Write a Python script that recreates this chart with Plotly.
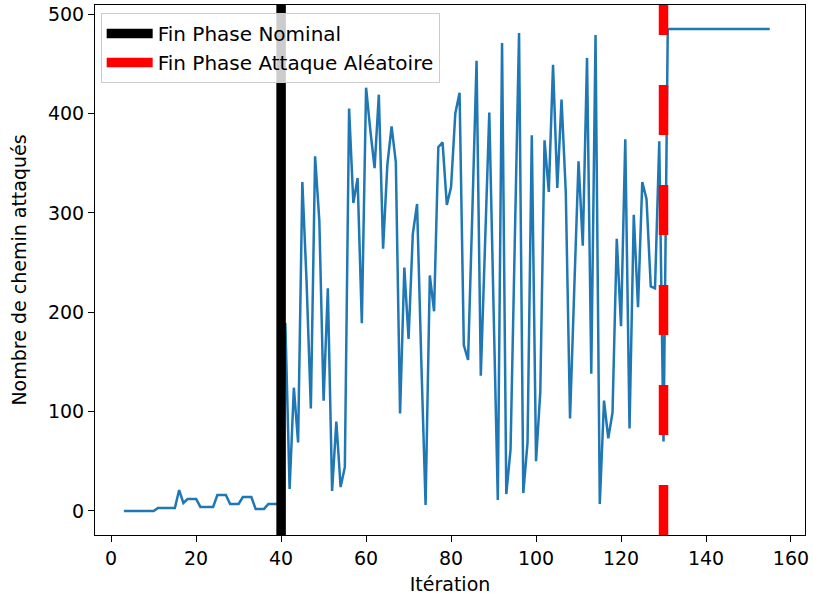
import plotly.graph_objects as go

# ---- data ----
iterations = list(range(3, 156))
paths_attacked = [
    0, 0, 0, 0, 0, 0, 0, 0,                      # 3-10
    3, 3, 3, 3, 3,                               # 11-15
    21, 8, 12, 12, 12,                           # 16-20
    4, 4, 4, 4, 16, 16, 16, 7, 7, 7,             # 21-30
    14, 14, 14, 2, 2, 2, 7, 7, 7, 7,             # 31-40
    189, 22, 124, 69, 331, 230, 103, 357, 292, 111,   # 41-50
    224, 20, 90, 24, 44, 405, 310, 335, 189, 426,     # 51-60
    383, 345, 419, 264, 348, 387, 351, 98, 245, 173,  # 61-70
    279, 309, 150, 6, 237, 201, 366, 371, 308, 326,   # 71-80
    400, 421, 167, 152, 300, 453, 136, 268, 401, 205, # 81-90
    11, 471, 17, 62, 270, 481, 18, 69, 378, 50,       # 91-100
    120, 373, 321, 449, 325, 414, 321, 93, 224, 352,  # 101-110
    267, 456, 138, 479, 7, 111, 73, 99, 274, 186,     # 111-120
    374, 83, 298, 205, 331, 314, 226, 224, 372, 70,   # 121-130
    485, 485, 485, 485, 485, 485, 485, 485, 485, 485, # 131-140
    485, 485, 485, 485, 485, 485, 485, 485, 485, 485, # 141-150
    485, 485, 485, 485, 485,                          # 151-155
]
nominal_end = 40
random_attack_end = 130
legend_labels = ["Fin Phase Nominal", "Fin Phase Attaque Aléatoire"]
x_ticks = [0, 20, 40, 60, 80, 100, 120, 140, 160]
y_ticks = [0, 100, 200, 300, 400, 500]
x_title = "Itération"
y_title = "Nombre de chemin attaqués"

x_range = [-3.8, 163.3]
y_range = [-24.25, 509.25]

font_family = "DejaVu Sans"
fs = 19

fig = go.Figure()
fig.add_trace(go.Scatter(
    x=iterations, y=paths_attacked, mode="lines",
    line=dict(color="#1f77b4", width=2.5),
    showlegend=False, hoverinfo="skip",
))
fig.add_trace(go.Scatter(
    x=[nominal_end, nominal_end], y=y_range, mode="lines",
    line=dict(color="black", width=9.5),
    name=legend_labels[0],
))
fig.add_trace(go.Scatter(
    x=[random_attack_end, random_attack_end], y=y_range, mode="lines",
    line=dict(color="red", width=9.5, dash="50px,50px"),
    name=legend_labels[1],
))

axis_common = dict(
    showline=True, linecolor="black", linewidth=1, mirror=True,
    ticks="outside", ticklen=6, tickwidth=1, tickcolor="black",
    showgrid=False, zeroline=False,
    tickfont=dict(family=font_family, size=fs, color="black"),
)

fig.update_layout(
    width=813, height=598,
    margin=dict(l=95, r=8, t=5, b=63),
    plot_bgcolor="white", paper_bgcolor="white",
    font=dict(family=font_family, size=fs, color="black"),
    xaxis=dict(range=x_range, tickvals=x_ticks, automargin=False,
               title=dict(text=x_title, font=dict(family=font_family, size=fs), standoff=9),
               **axis_common),
    yaxis=dict(range=y_range, tickvals=y_ticks, automargin=False,
               title=dict(text=y_title, font=dict(family=font_family, size=fs), standoff=16),
               **axis_common),
    legend=dict(
        x=0.008, y=0.985, xanchor="left", yanchor="top",
        bgcolor="rgba(255,255,255,0.8)", bordercolor="#cccccc", borderwidth=1,
        font=dict(family=font_family, size=20, color="black"),
        itemwidth=46,
    ),
)

fig.write_html("out.html", config={"displayModeBar": False},
               post_script="document.body.style.margin='0px';")
